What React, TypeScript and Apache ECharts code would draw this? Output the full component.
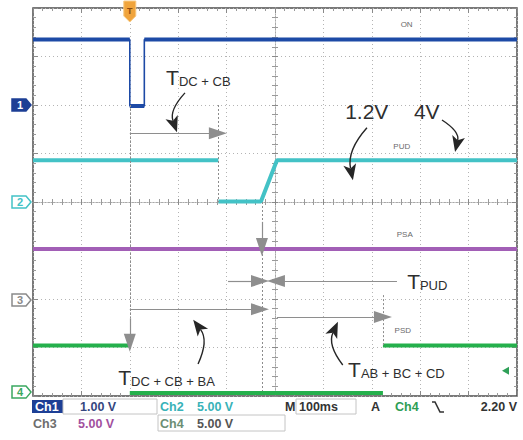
import React, { useEffect, useRef } from "react";
import * as echarts from "echarts";

// Horizontal: time in ms relative to the trigger (100 ms/div). Vertical: screen divisions.
const timeMin = -200;
const timeMax = 800;
const timePerDiv = 100;
const divMin = -4;
const divMax = 4;

const onTimes = [-200, 0, 0, 30, 30, 800];
const onLevels = [3.35, 3.35, 1.98, 1.98, 3.35, 3.35];
const pudTimes = [-200, 183, 183, 271, 304, 800];
const pudLevels = [0.86, 0.86, 0.01, 0.01, 0.86, 0.86];
const psaTimes = [-200, 800];
const psaLevels = [-0.97, -0.97];
const psdTimes = [-200, 0, 0, 523, 523, 800];
const psdLevels = [-2.96, -2.96, -3.94, -3.94, -2.96, -2.96];

const channelNames = ["ON", "PUD", "PSA", "PSD"];
const channelIds = ["1", "2", "3", "4"];
const channelGrounds = [2.0, 0.0, -2.02, -3.92];
const traceLabelAnchors = [
  [572, 3.65],
  [562, 1.15],
  [568, -0.66],
  [564, -2.64],
];

const triggerTime = 0;
const triggerLevel = -3.48;

// annotation geometry, in (ms, div)
const greyArrows = [
  [0, 1.42, 182, 1.42],
  [273, -0.41, 273, -0.93],
  [0, -2.4, 0, -2.9],
  [203, -1.63, 269, -1.63],
  [552, -1.63, 302, -1.63],
  [0, -2.21, 269, -2.21],
  [304, -2.37, 523, -2.37],
];
const dottedLines = [
  [183, 2.0, 183, 0.0],
  [0, 2.0, 0, -2.4],
  [273, 0.0, 273, -3.9],
  [523, -1.92, 523, -2.95],
];
const curvedArrows = [
  [114, 2.25, 97.5, 1.44, -0.3],
  [490, 1.53, 461, 0.45, -0.25],
  [645, 1.69, 672, 1.03, 0.35],
  [141, -3.34, 131, -2.43, -0.3],
  [440, -3.36, 430, -2.47, 0.3],
];
const timingLabels = [
  { main: "T", sub: "DC + CB", at: [75, 2.35] },
  { main: "T", sub: "PUD", at: [573, -1.86] },
  { main: "T", sub: "DC + CB + BA", at: [-24, -3.84] },
  { main: "T", sub: "AB + BC + CD", at: [451, -3.67] },
];
const voltageLabels = [
  { text: "1.2V", at: [445, 1.65] },
  { text: "4V", at: [587, 1.65] },
];

const statusRow1 = ["Ch1", "1.00 V", "Ch2", "5.00 V", "M", "100ms", "A", "Ch4", "2.20 V"];
const statusRow2 = ["Ch3", "5.00 V", "Ch4", "5.00 V"];

const FONT = "'Liberation Sans', Arial, sans-serif";
const colors = ["#1d4aa6", "#43c2c6", "#a25fb6", "#25b04c"];

const zip = (xs: number[], ys: number[]) => xs.map((x, i) => [x, ys[i]]);
// same trace, with the instantaneous (vertical) edges left out
const levelsOnly = (xs: number[], ys: number[]) => {
  const out: any[] = [];
  xs.forEach((x, i) => {
    if (i > 0 && x === xs[i - 1]) out.push([x, "-"]);
    out.push([x, ys[i]]);
  });
  return out;
};

function axis(
  kind: "x" | "y",
  gridIndex: number,
  position: string,
  center: boolean,
  split: boolean
) {
  const isX = kind === "x";
  const half = isX ? (timeMax - timeMin) / 2 : (divMax - divMin) / 2;
  return {
    type: "value",
    gridIndex,
    position,
    min: center ? -half : isX ? timeMin : divMin,
    max: center ? half : isX ? timeMax : divMax,
    interval: isX ? timePerDiv : 1,
    axisLine: {
      show: center,
      onZero: center,
      lineStyle: { color: "#a8a8a8", width: 1, type: [1, 2] },
    },
    axisTick: {
      show: true,
      inside: true,
      length: center ? 3 : 5,
      lineStyle: { color: "#8a8a8a", width: 1 },
    },
    minorTick: {
      show: true,
      splitNumber: 5,
      length: 3,
      lineStyle: { color: "#9a9a9a", width: 1 },
    },
    axisLabel: { show: false },
    splitLine: {
      show: split,
      lineStyle: { color: "#b4b4b4", width: 1, type: [1, 3] },
    },
    minorSplitLine: { show: false },
  };
}

function seg(a: number[], color: string, width: number, type: any, endSymbol: string, endSize: any) {
  const ls = { color, width, type };
  return [
    { coord: [a[0], a[1]], symbol: "none", lineStyle: ls },
    { coord: [a[2], a[3]], symbol: endSymbol, symbolSize: endSize, lineStyle: ls },
  ];
}

export default function App() {
  const ref = useRef<HTMLDivElement>(null);

  useEffect(() => {
    if (!ref.current) return;
    const chart = echarts.init(ref.current, null, { renderer: "svg" });
    const gridBox = { left: 33, top: 8, width: 484, height: 388 };

    const markData: any[] = [];
    dottedLines.forEach((d) => markData.push(seg(d, "#8c8c8c", 1, [2, 2], "none", 0)));
    greyArrows.forEach((d) => markData.push(seg(d, "#8e8e8e", 1.2, "solid", "triangle", [12, 18])));

    const traces = [
      { times: onTimes, levels: onLevels },
      { times: pudTimes, levels: pudLevels },
      { times: psaTimes, levels: psaLevels },
      { times: psdTimes, levels: psdLevels },
    ];

    const series: any[] = [];
    // thin edge of the ON pulse
    series.push({
      type: "line",
      name: "ON edges",
      xAxisIndex: 0,
      yAxisIndex: 0,
      data: zip(onTimes, onLevels),
      symbol: "none",
      silent: true,
      z: 2,
      lineStyle: { color: colors[0], width: 1.6 },
    });
    traces.forEach((s, i) => {
      series.push({
        type: "line",
        name: channelNames[i],
        xAxisIndex: 0,
        yAxisIndex: 0,
        data: levelsOnly(s.times, s.levels),
        connectNulls: false,
        symbol: "none",
        silent: true,
        z: 3,
        lineStyle: { color: colors[i], width: 4 },
        itemStyle: { color: colors[i] },
      });
    });
    series.push({
      type: "line",
      name: "annotations",
      xAxisIndex: 0,
      yAxisIndex: 0,
      data: [],
      symbol: "none",
      silent: true,
      z: 5,
      markLine: {
        silent: true,
        animation: false,
        symbol: ["none", "none"],
        label: { show: false },
        data: markData,
      },
    });

    const option: any = {
      animation: false,
      backgroundColor: "#ffffff",
      grid: [
        { ...gridBox, show: true, borderColor: "#4d4d4d", borderWidth: 1.5, backgroundColor: "#fff" },
        { ...gridBox },
      ],
      xAxis: [
        axis("x", 0, "bottom", false, true),
        axis("x", 0, "top", false, false),
        axis("x", 1, "bottom", true, false),
        axis("x", 1, "top", true, false),
      ],
      yAxis: [
        axis("y", 0, "left", false, true),
        axis("y", 0, "right", false, false),
        axis("y", 1, "left", true, false),
        axis("y", 1, "right", true, false),
      ],
      series,
    };
    chart.setOption(option);

    const P = (x: number, y: number) =>
      chart.convertToPixel({ xAxisIndex: 0, yAxisIndex: 0 }, [x, y]) as number[];

    const g: any[] = [];
    const [gl, gt] = P(timeMin, divMax);
    const [gr, gb] = P(timeMax, divMin);

    // curved black arrows (quadratic curves through the chart's scale)
    curvedArrows.forEach((a) => {
      const [x1, y1] = P(a[0], a[1]);
      const [x2, y2] = P(a[2], a[3]);
      const c = a[4];
      const cpx = (x1 + x2) / 2 - (y1 - y2) * c;
      const cpy = (y1 + y2) / 2 - (x2 - x1) * c;
      let dx = x2 - cpx;
      let dy = y2 - cpy;
      const len = Math.hypot(dx, dy) || 1;
      dx /= len;
      dy /= len;
      const hl = 16;
      const hw = 6.5;
      const bx = x2 - dx * hl;
      const by = y2 - dy * hl;
      const nx = x2 - dx * (hl - 4);
      const ny = y2 - dy * (hl - 4);
      g.push({
        type: "bezierCurve",
        z: 55,
        shape: { x1, y1, x2: nx, y2: ny, cpx1: cpx, cpy1: cpy },
        style: { stroke: "#262626", lineWidth: 1.4, fill: "none" },
      });
      g.push({
        type: "polygon",
        z: 56,
        shape: {
          points: [
            [x2, y2],
            [bx - dy * hw, by + dx * hw],
            [nx, ny],
            [bx + dy * hw, by - dx * hw],
          ],
        },
        style: { fill: "#262626" },
      });
    });

    // channel ground markers
    channelGrounds.forEach((lv, i) => {
      const [, y] = P(timeMin, lv);
      const x = gl;
      const filled = i === 0;
      const stroke = ["#1d3f95", "#43c2c6", "#8a8a8a", "#3aa860"][i];
      g.push({
        type: "polygon",
        z: 50,
        shape: {
          points: [
            [x - 21, y - 6],
            [x - 7, y - 6],
            [x - 2, y],
            [x - 7, y + 6],
            [x - 21, y + 6],
          ],
        },
        style: { fill: filled ? stroke : "#fff", stroke, lineWidth: 1.5 },
      });
      g.push({
        type: "text",
        z: 51,
        x: x - 13,
        y,
        style: {
          text: channelIds[i],
          fill: filled ? "#fff" : stroke,
          font: `bold 11px ${FONT}`,
          align: "center",
          verticalAlign: "middle",
        },
      });
    });

    // trace labels
    channelNames.forEach((n, i) => {
      const [x, y] = P(traceLabelAnchors[i][0], traceLabelAnchors[i][1]);
      g.push({
        type: "text",
        z: 50,
        x,
        y,
        style: {
          text: n,
          fill: "#6a6a6a",
          font: `8px ${FONT}`,
          align: "center",
          verticalAlign: "middle",
        },
      });
    });

    // timing labels
    timingLabels.forEach((t) => {
      const [x, y] = P(t.at[0], t.at[1]);
      g.push({
        type: "text",
        z: 60,
        x,
        y,
        style: {
          text: `{t|${t.main}}{s|${t.sub}}`,
          align: "left",
          verticalAlign: "bottom",
          rich: {
            t: { fontSize: 21, fontFamily: FONT, fill: "#2e2e2e", verticalAlign: "bottom", lineHeight: 22 },
            s: { fontSize: 13, fontFamily: FONT, fill: "#2e2e2e", verticalAlign: "bottom", lineHeight: 22 },
          },
        },
      });
    });
    voltageLabels.forEach((t) => {
      const [x, y] = P(t.at[0], t.at[1]);
      g.push({
        type: "text",
        z: 60,
        x,
        y,
        style: {
          text: t.text,
          fill: "#2e2e2e",
          font: `21px ${FONT}`,
          align: "left",
          verticalAlign: "bottom",
        },
      });
    });

    // trigger position marker
    const [tx] = P(triggerTime, divMax);
    g.push({
      type: "polygon",
      z: 60,
      shape: {
        points: [
          [tx - 6, gt - 7],
          [tx + 6, gt - 7],
          [tx + 6, gt + 8],
          [tx, gt + 14],
          [tx - 6, gt + 8],
        ],
      },
      style: { fill: "#f0a43c", stroke: "#f7c982", lineWidth: 1 },
    });
    g.push({
      type: "text",
      z: 61,
      x: tx,
      y: gt + 3,
      style: { text: "T", fill: "#8a4a10", font: `bold 9px ${FONT}`, align: "center", verticalAlign: "middle" },
    });

    // trigger level marker
    const [rx, ry] = P(timeMax, triggerLevel);
    g.push({
      type: "polygon",
      z: 60,
      shape: { points: [[rx - 15, ry], [rx - 8, ry - 4], [rx - 8, ry + 4]] },
      style: { fill: "#2fa058" },
    });

    // status bar
    const r1 = gb + 11;
    const r2 = gb + 28;
    const sFont = `bold 12.5px ${FONT}`;
    g.push({ type: "rect", z: 40, shape: { x: gl - 1, y: gb + 4, width: 31, height: 13 }, style: { fill: "#1d3f95" } });
    g.push({ type: "rect", z: 40, shape: { x: gl + 30, y: gb + 3, width: 94, height: 15 }, style: { fill: "none", stroke: "#c4c4c4", lineWidth: 1 } });
    g.push({ type: "rect", z: 40, shape: { x: gl + 125, y: gb + 19, width: 127, height: 16 }, style: { fill: "none", stroke: "#c4c4c4", lineWidth: 1 } });
    g.push({ type: "rect", z: 40, shape: { x: gl + 263, y: gb + 3, width: 60, height: 15 }, style: { fill: "none", stroke: "#c4c4c4", lineWidth: 1 } });
    const row1Pos = [gl + 2, gl + 47, gl + 127, gl + 164, gl + 252, gl + 266, gl + 338, gl + 362, gr];
    const row1Col = ["#ffffff", "#35477f", "#38b2b8", "#38b2b8", "#333", "#333", "#333", "#2f9e55", "#333"];
    statusRow1.forEach((s, i) => {
      g.push({
        type: "text",
        z: 45,
        x: row1Pos[i],
        y: r1,
        style: {
          text: s,
          fill: row1Col[i],
          font: sFont,
          align: i === statusRow1.length - 1 ? "right" : "left",
          verticalAlign: "middle",
        },
      });
    });
    // falling slope symbol
    g.push({
      type: "polyline",
      z: 45,
      shape: { points: [[gl + 399, r1 - 5], [gl + 402, r1 - 5], [gl + 407, r1 + 5], [gl + 411, r1 + 5]] },
      style: { stroke: "#333", lineWidth: 1.6, fill: "none" },
    });
    const row2Pos = [gl, gl + 45, gl + 127, gl + 164];
    const row2Col = ["#6d6d6d", "#a2509e", "#6b8e74", "#555"];
    statusRow2.forEach((s, i) => {
      g.push({
        type: "text",
        z: 45,
        x: row2Pos[i],
        y: r2,
        style: { text: s, fill: row2Col[i], font: sFont, align: "left", verticalAlign: "middle" },
      });
    });

    chart.setOption({ graphic: g });

    return () => chart.dispose();
  }, []);

  return (
    <div
      ref={ref}
      style={{ position: "fixed", left: 0, top: 0, width: 523, height: 440, background: "#fff" }}
    />
  );
}
